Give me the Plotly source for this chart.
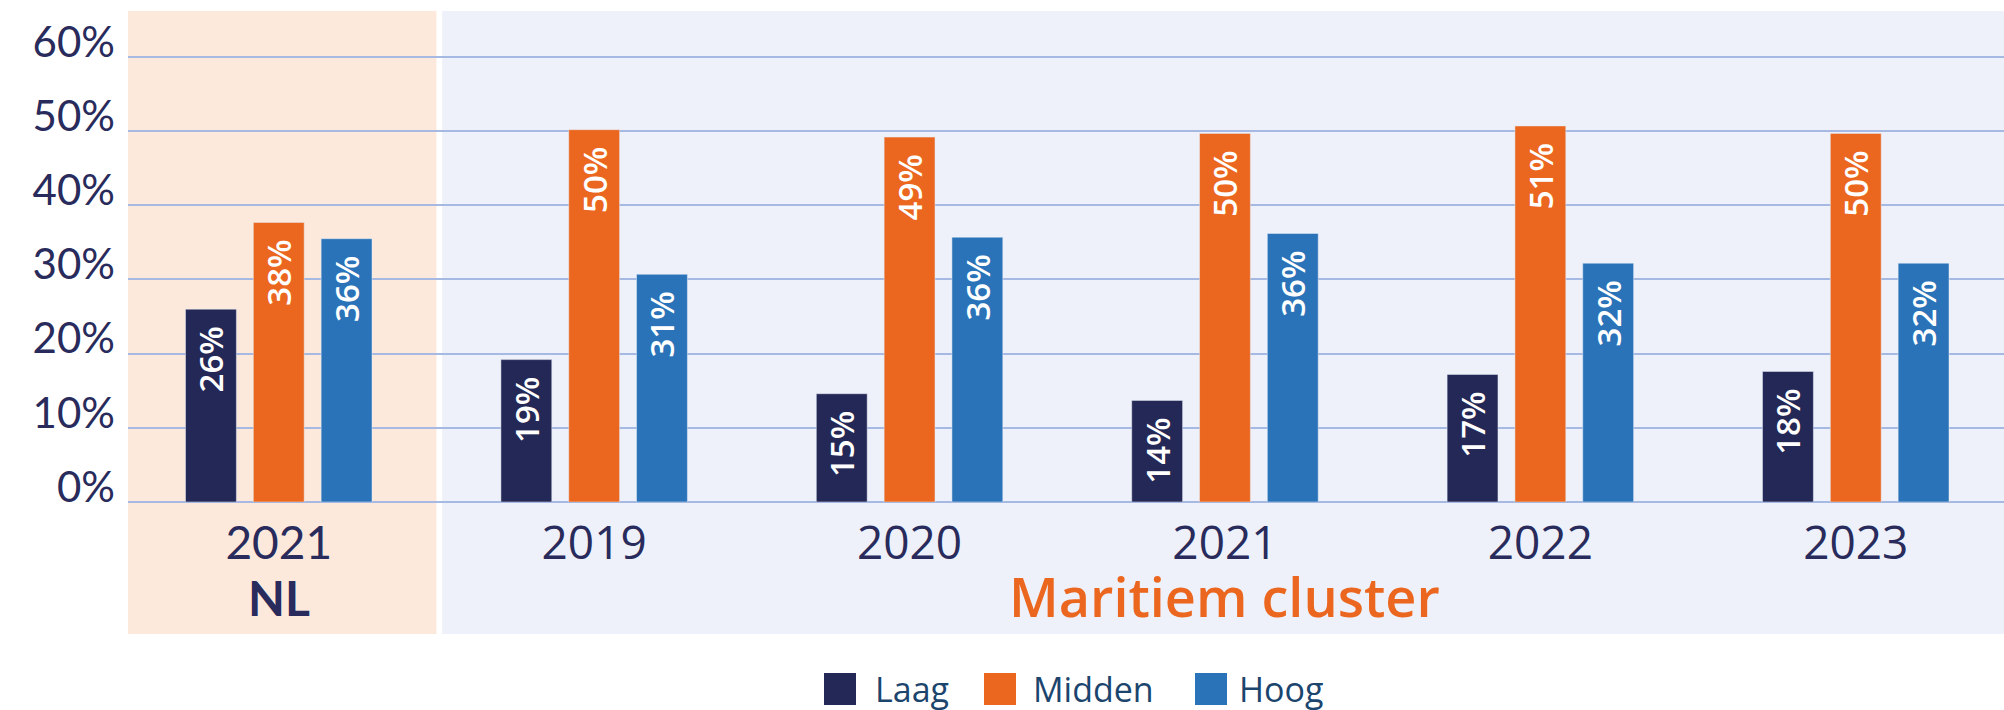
import plotly.graph_objects as go

# data
regions = ["NL", "Maritiem cluster", "Maritiem cluster", "Maritiem cluster", "Maritiem cluster", "Maritiem cluster"]
years = ["2021", "2019", "2020", "2021", "2022", "2023"]
series_names = ["Laag", "Midden", "Hoog"]
laag = [26.0, 19.2, 14.6, 13.7, 17.2, 17.6]
midden = [37.7, 50.2, 49.2, 49.7, 50.7, 49.7]
hoog = [35.5, 30.7, 35.7, 36.2, 32.2, 32.2]
y_ticks = [0, 10, 20, 30, 40, 50, 60]

colors = ["#242856", "#eb671f", "#2a73b9"]
navy = "#282b5b"
W, H = 2004, 710
L, R, T, B = 128, 0, 11, 208

cats = [f"{r} {y}" for r, y in zip(regions, years)]
# the NL year is set in a different typeface in the original
tick_text = [f"<span style='font-family:Lato'>{y}</span>" if r == "NL" else y
             for r, y in zip(regions, years)]


def px_x(px):
    return (px - L) / (W - L - R)


def px_y(py):
    return (H - B - py) / (H - B - T)


fig = go.Figure()
for name, vals, col in zip(series_names, [laag, midden, hoog], colors):
    fig.add_trace(go.Bar(
        x=cats, y=vals, name=name, marker_color=col,
        texttemplate="%{y:.0f}%\u00a0\u2009", textposition="inside", insidetextanchor="end",
        textangle=-90, constraintext="none",
        textfont=dict(family="Open Sans", size=33, color="white", weight=600),
        showlegend=False,
    ))

# background panels
nl_idx = [i for i, r in enumerate(regions) if r == "NL"]
mc_idx = [i for i, r in enumerate(regions) if r != "NL"]
shapes = [
    dict(type="rect", xref="x", yref="paper", x0=-0.6, x1=max(nl_idx) + 0.5,
         y0=px_y(634), y1=1, fillcolor="#fce9dc", line_width=0, layer="below"),
    dict(type="rect", xref="x", yref="paper", x0=min(mc_idx) - 0.482, x1=len(cats),
         y0=px_y(634), y1=1, fillcolor="#eef1fa", line_width=0, layer="below"),
]

annotations = [
    dict(text="<b>NL</b>", x=sum(nl_idx) / len(nl_idx), xref="x", y=px_y(597), yref="paper",
         yanchor="middle", showarrow=False, font=dict(family="Lato", size=48, color=navy)),
    dict(text="Maritiem cluster", x=sum(mc_idx) / len(mc_idx), xref="x", y=px_y(596), yref="paper",
         yanchor="middle", showarrow=False,
         font=dict(family="Open Sans", size=54, color="#eb671f", weight=600)),
]

# custom legend with large squares
legend_sq = [840, 1000, 1211]
legend_tx = [873, 1031, 1237]
for name, col, sx, tx in zip(series_names, colors, legend_sq, legend_tx):
    shapes.append(dict(type="rect", xref="paper", yref="paper",
                       x0=px_x(sx - 16), x1=px_x(sx + 16), y0=px_y(705), y1=px_y(673),
                       fillcolor=col, line_width=0))
    annotations.append(dict(text=name, x=px_x(tx), y=px_y(689), xref="paper", yref="paper",
                            xanchor="left", yanchor="middle", showarrow=False,
                            font=dict(family="Open Sans", size=34, color="#1c456e")))

fig.update_layout(
    width=W, height=H, autosize=False,
    margin=dict(l=L, r=R, t=T, b=B),
    paper_bgcolor="white", plot_bgcolor="rgba(0,0,0,0)",
    barmode="group", bargap=0.355, bargroupgap=0.25,
    shapes=shapes, annotations=annotations,
    xaxis=dict(type="category", range=[-0.478, 5.47], tickvals=cats, ticktext=tick_text,
               tickfont=dict(family="Open Sans", size=46, color=navy),
               showgrid=False, showline=False, ticks="", ticklabelstandoff=10),
    yaxis=dict(range=[0, 66.2], tickvals=y_ticks, ticktext=[f"{v}%" for v in y_ticks],
               tickfont=dict(family="Lato", size=42, color=navy),
               gridcolor="#a6b9e2", gridwidth=2, zeroline=True, zerolinecolor="#a6b9e2",
               zerolinewidth=2, ticks="", ticklabelstandoff=12, ticklabelshift=-15),
)

fig.write_html("out.html", config={"displayModeBar": False},
               post_script="document.body.style.margin='0';")
